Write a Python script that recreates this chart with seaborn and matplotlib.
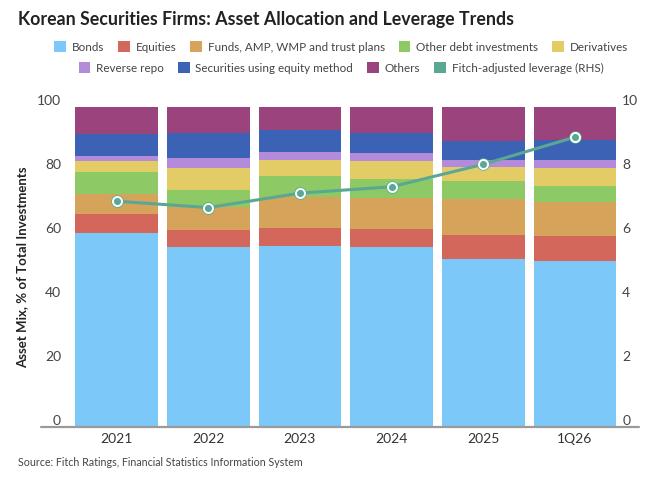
import numpy as np
import pandas as pd
import matplotlib
matplotlib.use("Agg")
import matplotlib.pyplot as plt
from matplotlib.patches import Patch
import seaborn as sns

periods = ["2021", "2022", "2023", "2024", "2025", "1Q26"]

# asset mix, % of total investments (bottom -> top of the stack)
bonds = [60.5, 56.25, 56.5, 56.25, 52.6, 51.8]
equities = [6.0, 5.25, 5.5, 5.55, 7.4, 7.7]
funds = [6.4, 7.25, 9.7, 9.8, 11.1, 10.6]
other_debt = [6.8, 5.35, 6.8, 5.9, 5.6, 5.2]
derivatives = [3.4, 6.9, 4.8, 5.6, 4.55, 5.7]
reverse_repo = [1.6, 3.0, 2.6, 2.3, 2.05, 2.5]
equity_method = [6.8, 7.7, 6.8, 6.3, 5.9, 6.1]
others = [8.5, 8.3, 7.3, 8.3, 10.8, 10.4]

# Fitch-adjusted leverage (x), right axis
leverage = [7.05, 6.85, 7.3, 7.5, 8.2, 9.05]

series_names = ["Bonds", "Equities", "Funds, AMP, WMP and trust plans",
                "Other debt investments", "Derivatives", "Reverse repo",
                "Securities using equity method", "Others"]
series_vals = [bonds, equities, funds, other_debt, derivatives,
               reverse_repo, equity_method, others]
colors = ["#7cc8f8", "#d4675b", "#d6a35b", "#8dc964", "#e3cc66",
          "#b48ada", "#3b62b4", "#9a437c"]
lev_color = "#5aa894"

sns.set_theme(style="white")
plt.rcParams["font.family"] = ["Lato", "DejaVu Sans"]

df = pd.DataFrame(dict(zip(series_names, series_vals)), index=periods)
cum = df.cumsum(axis=1)

fig = plt.figure(figsize=(6.5, 4.79), dpi=100)
ax = fig.add_axes([68 / 650, 52 / 479, 550 / 650, 320.3 / 479])

# draw cumulative totals from the top layer down so each layer shows
for name, col in reversed(list(zip(series_names, colors))):
    sns.barplot(x=periods, y=cum[name].values, color=col, saturation=1,
                width=0.9, linewidth=0, ax=ax)

ax.set_xlim(-0.53, 5.47)
ax.set_ylim(0, 100)
ax.set_yticks([0, 20, 40, 60, 80, 100])
ax.set_ylabel("Asset Mix, % of Total Investments", fontsize=9.5,
              fontweight="bold", color="#222222")
ax.yaxis.set_label_coords(-40 / 550, 0.5)
ax.tick_params(axis="y", length=0, pad=5, labelsize=10, labelcolor="#444444")
ax.tick_params(axis="x", length=0, pad=4, labelsize=10, labelcolor="#333333")
for lab in ax.get_yticklabels():
    lab.set_verticalalignment("bottom")
for s in ax.spines.values():
    s.set_visible(False)
ax.plot([-0.82, 5.70], [0, 0], color="#9a9a9a", lw=1.6, clip_on=False, zorder=5)

ax2 = ax.twinx()
ax2.set_ylim(0, 10)
ax2.set_yticks([0, 2, 4, 6, 8, 10])
ax2.tick_params(axis="y", length=0, pad=3, labelsize=10, labelcolor="#444444")
for lab in ax2.get_yticklabels():
    lab.set_verticalalignment("bottom")
for s in ax2.spines.values():
    s.set_visible(False)
xs = np.arange(len(periods))
sns.lineplot(x=xs, y=leverage, color=lev_color, lw=2.2, marker="o",
             markersize=9, markeredgewidth=0, ax=ax2)
ax2.plot(xs, leverage, ls="none", marker="o", markersize=6.5,
         markerfacecolor=lev_color, markeredgecolor="white", mew=1.4)
ax.set_xlim(-0.53, 5.47)

fig.text(18 / 650, 1 - 20 / 479, "Korean Securities Firms: Asset Allocation and Leverage Trends",
         fontsize=12.8, fontweight="bold", color="#222222", va="center", ha="left")

handles = [Patch(facecolor=c, edgecolor="none", label=n)
           for n, c in zip(series_names, colors)]
handles.append(Patch(facecolor=lev_color, edgecolor="none",
                     label="Fitch-adjusted leverage (RHS)"))
kw = dict(frameon=False, fontsize=8.4, handlelength=1.0, handleheight=1.0,
          handletextpad=0.5, columnspacing=1.2, labelcolor="#444444",
          loc="center", borderaxespad=0)
fig.legend(handles=handles[:5], ncol=5,
           bbox_to_anchor=(341 / 650, 1 - 47 / 479), **kw)
fig.legend(handles=handles[5:], ncol=4,
           bbox_to_anchor=(341 / 650, 1 - 68 / 479), **kw)

fig.text(18 / 650, 1 - 463 / 479,
         "Source: Fitch Ratings, Financial Statistics Information System",
         fontsize=7.7, color="#444444", va="center", ha="left")

fig.savefig("out.png", dpi=100, facecolor="white")
